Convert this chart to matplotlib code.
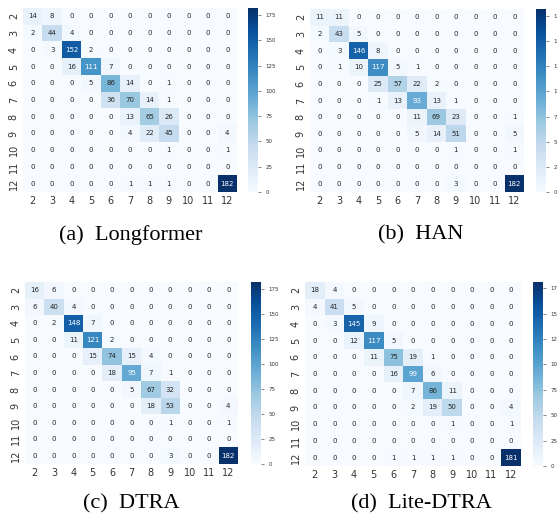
import numpy as np
import matplotlib
matplotlib.use("Agg")
import matplotlib.pyplot as plt
import seaborn as sns

labels = [2, 3, 4, 5, 6, 7, 8, 9, 10, 11, 12]

longformer = [
    [14, 8, 0, 0, 0, 0, 0, 0, 0, 0, 0],
    [2, 44, 4, 0, 0, 0, 0, 0, 0, 0, 0],
    [0, 3, 152, 2, 0, 0, 0, 0, 0, 0, 0],
    [0, 0, 16, 111, 7, 0, 0, 0, 0, 0, 0],
    [0, 0, 0, 5, 86, 14, 0, 1, 0, 0, 0],
    [0, 0, 0, 0, 36, 70, 14, 1, 0, 0, 0],
    [0, 0, 0, 0, 0, 13, 65, 26, 0, 0, 0],
    [0, 0, 0, 0, 0, 4, 22, 45, 0, 0, 4],
    [0, 0, 0, 0, 0, 0, 0, 1, 0, 0, 1],
    [0, 0, 0, 0, 0, 0, 0, 0, 0, 0, 0],
    [0, 0, 0, 0, 0, 1, 1, 1, 0, 0, 182],
]

han = [
    [11, 11, 0, 0, 0, 0, 0, 0, 0, 0, 0],
    [2, 43, 5, 0, 0, 0, 0, 0, 0, 0, 0],
    [0, 3, 146, 8, 0, 0, 0, 0, 0, 0, 0],
    [0, 1, 10, 117, 5, 1, 0, 0, 0, 0, 0],
    [0, 0, 0, 25, 57, 22, 2, 0, 0, 0, 0],
    [0, 0, 0, 1, 13, 93, 13, 1, 0, 0, 0],
    [0, 0, 0, 0, 0, 11, 69, 23, 0, 0, 1],
    [0, 0, 0, 0, 0, 5, 14, 51, 0, 0, 5],
    [0, 0, 0, 0, 0, 0, 0, 1, 0, 0, 1],
    [0, 0, 0, 0, 0, 0, 0, 0, 0, 0, 0],
    [0, 0, 0, 0, 0, 0, 0, 3, 0, 0, 182],
]

dtra = [
    [16, 6, 0, 0, 0, 0, 0, 0, 0, 0, 0],
    [6, 40, 4, 0, 0, 0, 0, 0, 0, 0, 0],
    [0, 2, 148, 7, 0, 0, 0, 0, 0, 0, 0],
    [0, 0, 11, 121, 2, 0, 0, 0, 0, 0, 0],
    [0, 0, 0, 15, 74, 15, 4, 0, 0, 0, 0],
    [0, 0, 0, 0, 18, 95, 7, 1, 0, 0, 0],
    [0, 0, 0, 0, 0, 5, 67, 32, 0, 0, 0],
    [0, 0, 0, 0, 0, 0, 18, 53, 0, 0, 4],
    [0, 0, 0, 0, 0, 0, 0, 1, 0, 0, 1],
    [0, 0, 0, 0, 0, 0, 0, 0, 0, 0, 0],
    [0, 0, 0, 0, 0, 0, 0, 3, 0, 0, 182],
]

lite_dtra = [
    [18, 4, 0, 0, 0, 0, 0, 0, 0, 0, 0],
    [4, 41, 5, 0, 0, 0, 0, 0, 0, 0, 0],
    [0, 3, 145, 9, 0, 0, 0, 0, 0, 0, 0],
    [0, 0, 12, 117, 5, 0, 0, 0, 0, 0, 0],
    [0, 0, 0, 11, 75, 19, 1, 0, 0, 0, 0],
    [0, 0, 0, 0, 16, 99, 6, 0, 0, 0, 0],
    [0, 0, 0, 0, 0, 7, 86, 11, 0, 0, 0],
    [0, 0, 0, 0, 0, 2, 19, 50, 0, 0, 4],
    [0, 0, 0, 0, 0, 0, 0, 1, 0, 0, 1],
    [0, 0, 0, 0, 0, 0, 0, 0, 0, 0, 0],
    [0, 0, 0, 0, 1, 1, 1, 1, 0, 0, 181],
]

captions = ["(a)  Longformer", "(b)  HAN", "(c)  DTRA", "(d)  Lite-DTRA"]
matrices = [longformer, han, dtra, lite_dtra]

W, H = 557, 517
fig = plt.figure(figsize=(W / 100, H / 100), dpi=100)

# pixel boxes: heatmap (left, top, right, bottom), colorbar (left, right), caption center (x, y)
panels = [
    ((23, 8, 237, 192), (248, 258), (131, 235)),
    ((310, 9, 524, 192), (536, 546), (421, 235)),
    ((25, 282, 238, 464), (251, 261), (131, 504)),
    ((305, 282, 521, 466), (533, 543), (421, 504)),
]

def px(l, t, r, b):
    return [l / W, 1 - b / H, (r - l) / W, (b - t) / H]

for mat, cap, (hm, cb, tx) in zip(matrices, captions, panels):
    ax = fig.add_axes(px(*hm))
    cax = fig.add_axes(px(cb[0], hm[1], cb[1], hm[3]))
    sns.heatmap(np.array(mat), ax=ax, cbar_ax=cax, cmap="Blues", annot=True, fmt="d",
                annot_kws={"fontsize": 5}, xticklabels=labels, yticklabels=labels)
    ax.tick_params(axis="both", labelsize=7, length=0, pad=3, labelcolor="#333333")
    ax.set_yticklabels(labels, rotation=90, va="center")
    cax.tick_params(labelsize=4, length=2, width=0.5, color="#555555", labelcolor="#333333")
    cax.set_yticks([0, 25, 50, 75, 100, 125, 150, 175])
    fig.text(tx[0] / W, 1 - tx[1] / H, cap, ha="center", va="center",
             fontsize=16, family="Liberation Serif")

fig.savefig("out.png", dpi=100)
